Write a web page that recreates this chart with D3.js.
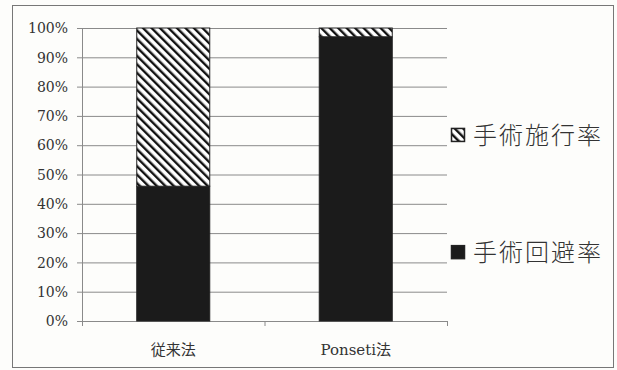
<!DOCTYPE html>
<html>
<head>
<meta charset="utf-8">
<script src="https://cdn.jsdelivr.net/npm/d3@7"></script>
<style>
  body { margin: 0; background: #fdfdfb; }
  svg { display: block; }
</style>
</head>
<body>
<div id="chart"></div>
<script>
// chart data
var categories = ["従来法", "Ponseti法"];
var avoidRate = [0.46, 0.97];   // 手術回避率 (black)
var surgeryRate = [0.54, 0.03]; // 手術施行率 (hatched)
var seriesNames = ["手術回避率", "手術施行率"];
var yTicks = [0, 0.1, 0.2, 0.3, 0.4, 0.5, 0.6, 0.7, 0.8, 0.9, 1.0];

var W = 617, H = 370;
var margin = { top: 28, right: 170, bottom: 49, left: 82 };
var width = W - margin.left - margin.right;
var height = H - margin.top - margin.bottom;
var serif = "'DejaVu Serif', 'Liberation Serif', 'Noto Sans CJK JP', serif";

var svg = d3.select("#chart").append("svg")
  .attr("width", W)
  .attr("height", H);

// hatch pattern
var defs = svg.append("defs");
var pat = defs.append("pattern")
  .attr("id", "hatch")
  .attr("patternUnits", "userSpaceOnUse")
  .attr("width", 6)
  .attr("height", 6)
  .attr("patternTransform", "rotate(-45)");
pat.append("rect").attr("width", 6).attr("height", 6).attr("fill", "#fff");
pat.append("rect").attr("x", 0).attr("width", 2.4).attr("height", 6).attr("fill", "#111");

// outer frame
svg.append("rect")
  .attr("x", 12.5).attr("y", 5.5)
  .attr("width", 601).attr("height", 362)
  .attr("fill", "none")
  .attr("stroke", "#777")
  .attr("stroke-width", 1);

var g = svg.append("g")
  .attr("transform", "translate(" + margin.left + "," + margin.top + ")");

var x = d3.scaleBand().domain(categories).range([0, width]).paddingInner(0.6).paddingOuter(0.3);
var xBand = d3.scaleBand().domain(categories).range([0, width]);
var y = d3.scaleLinear().domain([0, 1]).range([height, 0]);

// gridlines
g.append("g")
  .selectAll("line")
  .data(yTicks.slice(1))
  .enter().append("line")
  .attr("x1", 0).attr("x2", width)
  .attr("y1", function (d) { return y(d) + 0.5; })
  .attr("y2", function (d) { return y(d) + 0.5; })
  .attr("stroke", "#8a8a8a")
  .attr("stroke-width", 1);

// y axis
var yAxis = g.append("g")
  .call(d3.axisLeft(y).tickValues(yTicks).tickFormat(d3.format(".0%")).tickSize(5).tickPadding(9));
yAxis.attr("font-family", serif).attr("font-size", 14);
yAxis.select(".domain").attr("stroke", "#8a8a8a").attr("d", "M0.5," + height + "V0");
yAxis.selectAll(".tick line").attr("stroke", "#8a8a8a");
yAxis.selectAll("text")
  .attr("fill", "#333")
  .attr("dy", "0.34em");

// x axis with ticks at band edges
var xAxisG = g.append("g").attr("transform", "translate(0," + height + ")");
xAxisG.append("line")
  .attr("x1", 0).attr("x2", width)
  .attr("y1", 0.5).attr("y2", 0.5)
  .attr("stroke", "#8a8a8a");
xAxisG.selectAll(".edge")
  .data([0].concat(categories.map(function (c) { return xBand(c) + xBand.bandwidth(); })))
  .enter().append("line")
  .attr("x1", function (d) { return d + 0.5; })
  .attr("x2", function (d) { return d + 0.5; })
  .attr("y1", 0).attr("y2", 5)
  .attr("stroke", "#8a8a8a");
xAxisG.selectAll(".lbl")
  .data(categories)
  .enter().append("text")
  .attr("x", function (d) { return x(d) + x.bandwidth() / 2; })
  .attr("y", 34)
  .attr("text-anchor", "middle")
  .attr("fill", "#333")
  .attr("font-family", serif)
  .attr("font-size", 15)
  .text(function (d) { return d; });

// stacked bars
var bars = g.append("g");
bars.selectAll(".avoid")
  .data(categories)
  .enter().append("rect")
  .attr("x", function (d) { return x(d); })
  .attr("y", function (d, i) { return y(avoidRate[i]); })
  .attr("width", x.bandwidth())
  .attr("height", function (d, i) { return height - y(avoidRate[i]); })
  .attr("fill", "#1b1b1b")
  .attr("stroke", "#222");
bars.selectAll(".surg")
  .data(categories)
  .enter().append("rect")
  .attr("x", function (d) { return x(d); })
  .attr("y", function (d, i) { return y(avoidRate[i] + surgeryRate[i]); })
  .attr("width", x.bandwidth())
  .attr("height", function (d, i) { return y(avoidRate[i]) - y(avoidRate[i] + surgeryRate[i]); })
  .attr("fill", "url(#hatch)")
  .attr("stroke", "#222");

// legend
var legendY = [y(0.235) + margin.top, y(0.635) + margin.top];
var legend = svg.append("g").attr("transform", "translate(451,0)");
var items = legend.selectAll("g")
  .data([1, 0])
  .enter().append("g")
  .attr("transform", function (d) { return "translate(0," + legendY[d] + ")"; });
items.append("rect")
  .attr("x", 0.5).attr("y", -6.5)
  .attr("width", 13).attr("height", 13)
  .attr("fill", function (d) { return d === 1 ? "url(#hatch)" : "#1b1b1b"; })
  .attr("stroke", "#222")
  .attr("stroke-width", 1.5);
items.append("text")
  .attr("x", 22)
  .attr("y", 0)
  .attr("dy", "0.36em")
  .attr("fill", "#333")
  .attr("font-family", "'Noto Sans CJK JP', sans-serif")
  .attr("font-weight", 300)
  .attr("font-size", 24)
  .attr("letter-spacing", 2)
  .text(function (d) { return seriesNames[d]; });
</script>
</body>
</html>
